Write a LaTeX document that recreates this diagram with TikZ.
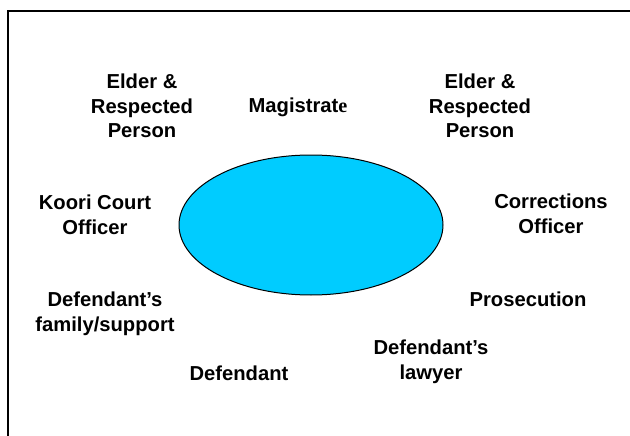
\documentclass[tikz,border=0pt]{standalone}
\usepackage{fontspec}
\setmainfont{Liberation Sans}
\newfontfamily\serifface{Liberation Serif}
\usetikzlibrary{shapes.geometric}
\definecolor{skyfill}{HTML}{00CCFF}
\begin{document}
\begin{tikzpicture}[x=1pt,y=-1pt,
  lbl/.style={font=\fontsize{20.2}{24.5}\selectfont\bfseries, align=center, anchor=base, inner sep=0pt}]
\useasboundingbox (0,0) rectangle (630,436);
\draw[line width=1.4pt] (8,436) -- (8,11) -- (630,11);
\node[ellipse, draw, line width=1pt, fill=skyfill, minimum width=264pt, minimum height=140pt, inner sep=0pt] (hub) at (311,225) {};
\node[lbl] (elderL) at (142,138) {Elder \&\\Respected\\Person};
\node[lbl] (mag) at (298,113) {Magistrat{\serifface e}};
\node[lbl] (elderR) at (480,138) {Elder \&\\Respected\\Person};
\node[lbl] (koori) at (95,234) {Koori Court\\Officer};
\node[lbl] (corr) at (551,233) {Corrections\\Officer};
\node[lbl] (family) at (105,331) {Defendant’s\\family/support};
\node[lbl] (pros) at (528,306) {Prosecution};
\node[lbl] (lawyer) at (431,379) {Defendant’s\\lawyer};
\node[lbl] (def) at (239,380) {Defendant};
\end{tikzpicture}
\end{document}
